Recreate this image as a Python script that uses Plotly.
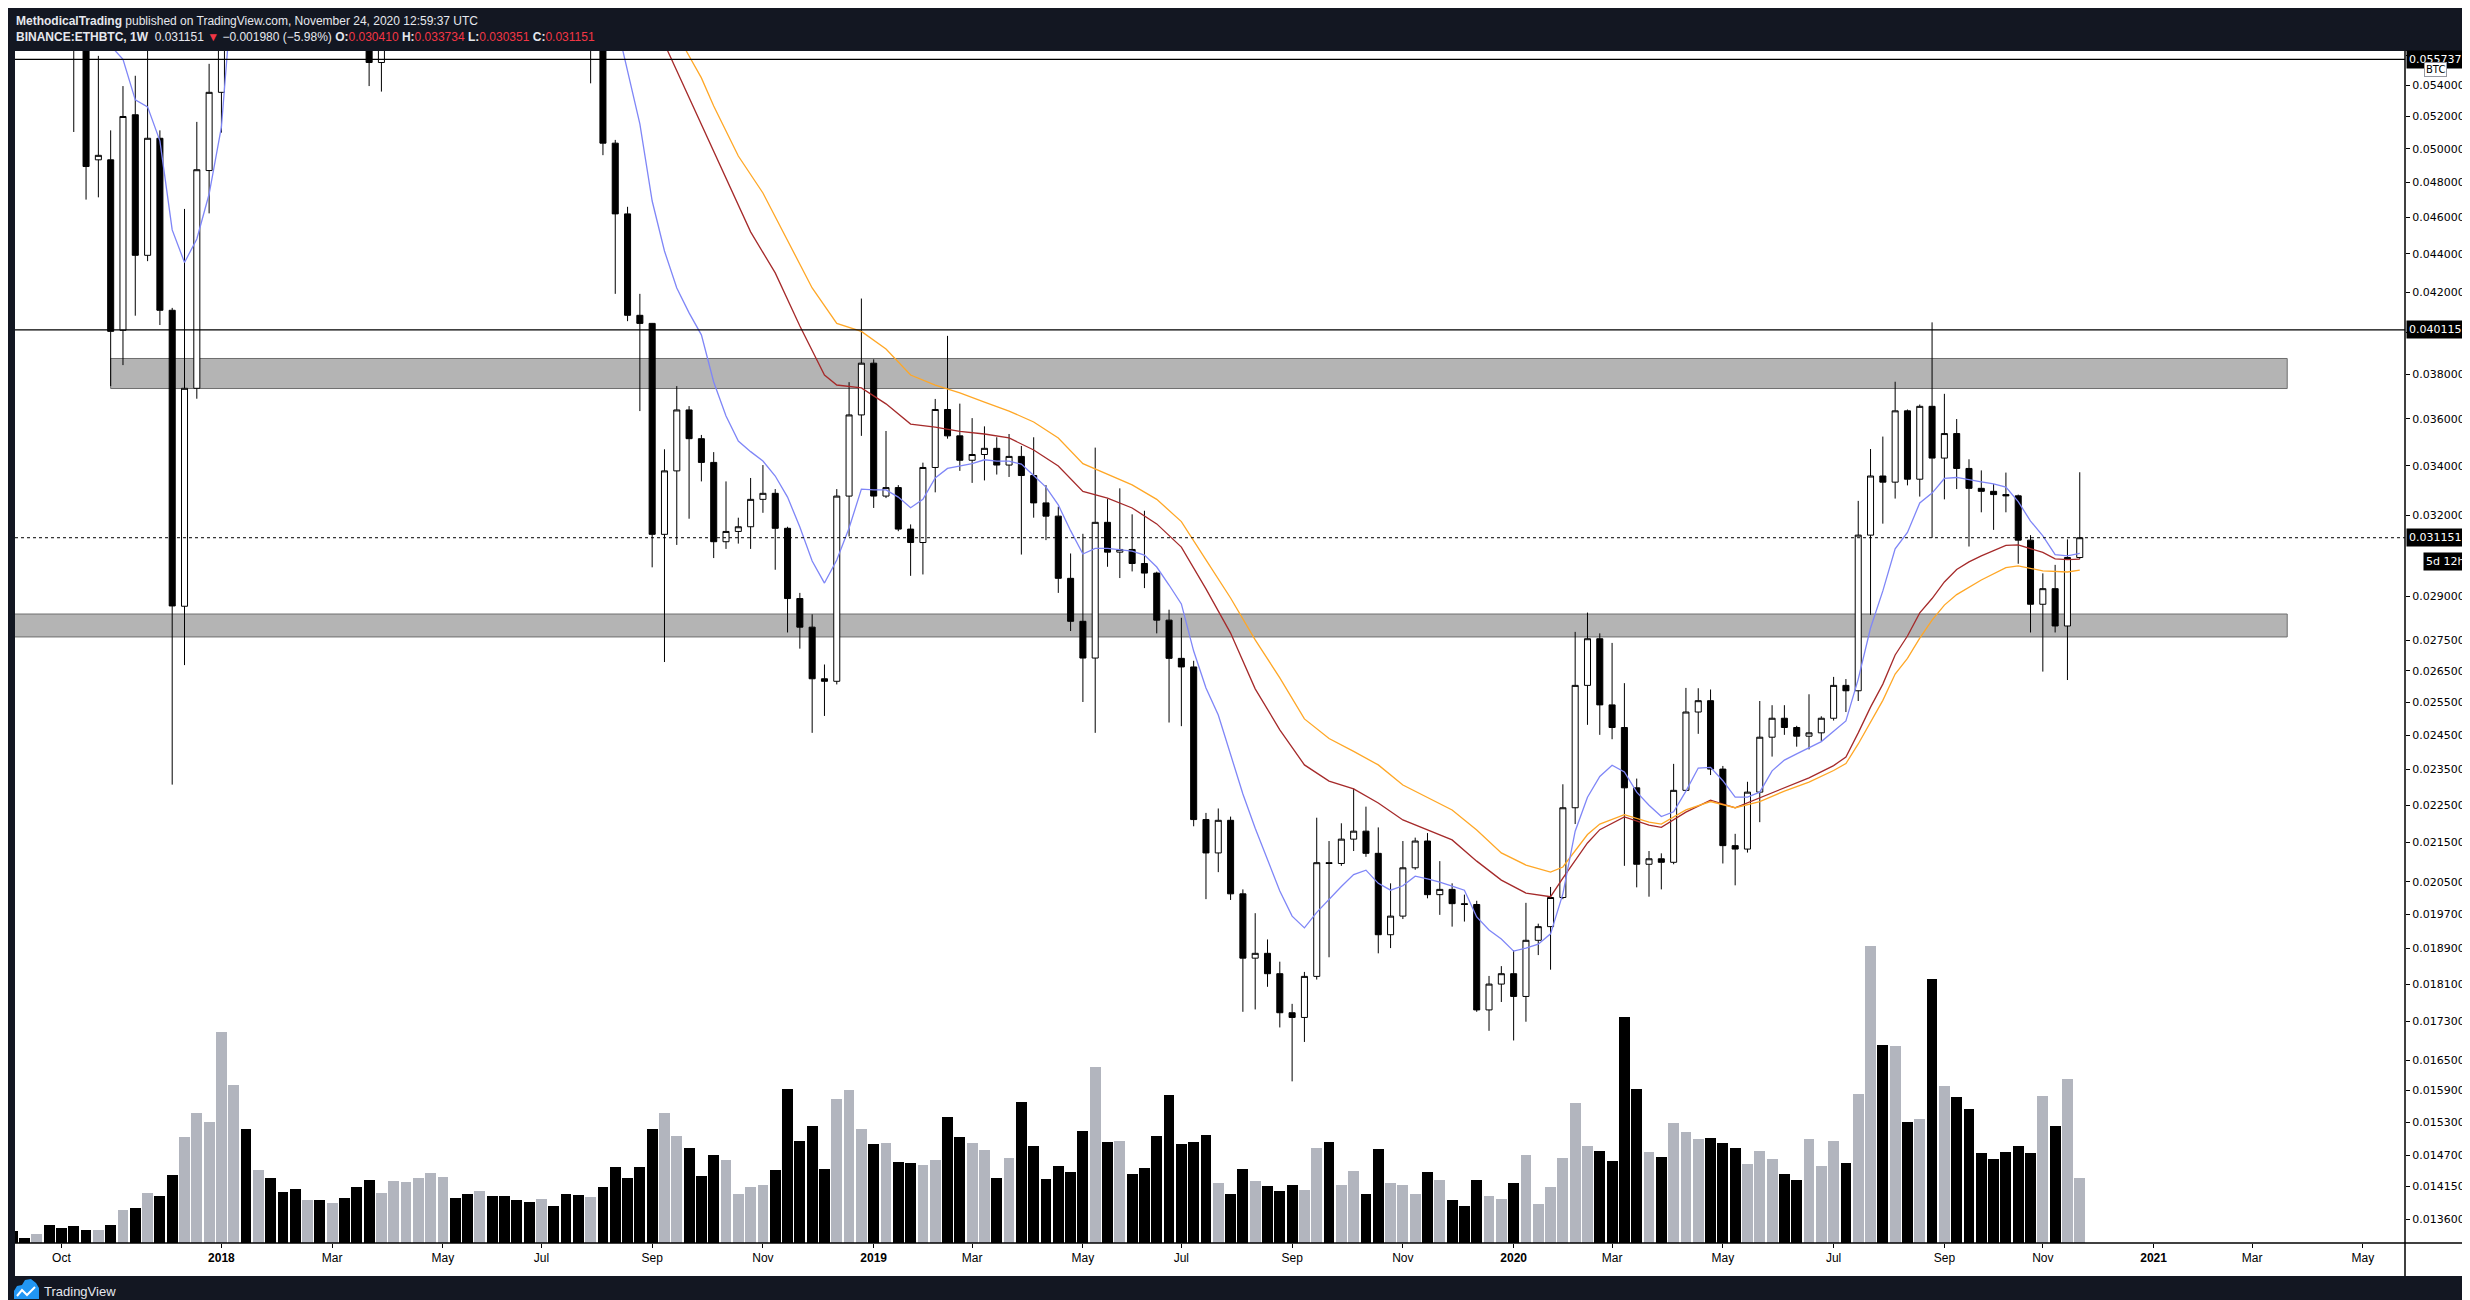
import math
import pandas as pd
import plotly.graph_objects as go

# BINANCE:ETHBTC weekly candles, first bar = week of 2017-09-04
opens = [
    0.0820, 0.0720, 0.0700, 0.0740, 0.0700, 0.0670, 0.0590, 0.04933, 0.04933, 0.04009,
    0.05211, 0.04392, 0.05064, 0.04108, 0.02866, 0.03736, 0.04869,
    0.05355, 0.0700, 0.0900, 0.0850, 0.0920, 0.0900, 0.0880, 0.0850, 0.0860, 0.0820,
    0.0830, 0.0720, 0.0620, 0.05553, 0.0590, 0.0640, 0.0690, 0.0740, 0.0820, 0.0840,
    0.0800, 0.0780, 0.0790, 0.0770, 0.0740, 0.0720, 0.0700, 0.0740, 0.0710, 0.0670,
    0.0585, 0.0600,
    0.05034, 0.04619, 0.04083, 0.04043, 0.03128, 0.03379, 0.03639, 0.03514, 0.03414, 0.03100,
    0.03139, 0.03157, 0.03264, 0.03288, 0.03151, 0.02893, 0.02794, 0.02624, 0.02616, 0.03277,
    0.03617,
    0.03852, 0.03277, 0.03311, 0.03148, 0.03097, 0.03393, 0.03641, 0.03526, 0.03423, 0.03447,
    0.03473, 0.03403, 0.03439, 0.03360, 0.03250, 0.03198, 0.02965, 0.02814, 0.02691, 0.03174,
    0.03061, 0.03071, 0.03019, 0.02984, 0.02818, 0.02690, 0.02662, 0.02211, 0.02123, 0.02209,
    0.02020, 0.01868, 0.01879, 0.01833, 0.01748, 0.01738, 0.01827, 0.02098, 0.02096, 0.02159,
    0.02180, 0.02122, 0.01922, 0.01966, 0.02085, 0.02154, 0.02018, 0.02031, 0.01996, 0.01994,
    0.01754, 0.01810,
    0.01833, 0.01783, 0.01909, 0.01941, 0.02011, 0.02243, 0.02603, 0.02755, 0.02542, 0.02473,
    0.02298, 0.02094, 0.02108, 0.02099, 0.02291, 0.02520, 0.02555, 0.02351, 0.02142, 0.02133,
    0.02286, 0.02444, 0.02501, 0.02473, 0.02447, 0.02457, 0.02501, 0.02603, 0.02586, 0.03125,
    0.03358, 0.03333, 0.03635, 0.03345, 0.03655, 0.03432, 0.03536, 0.03389, 0.03308, 0.03296,
    0.03283, 0.03278, 0.03106, 0.02873, 0.02928, 0.02798, 0.030410,
]
highs = [
    0.0830, 0.0745, 0.0760, 0.0750, 0.0710, 0.0685, 0.0600, 0.05598, 0.05113, 0.05396,
    0.05464, 0.0575, 0.05113, 0.04120, 0.04647, 0.05166, 0.05544,
    0.0760, 0.1000, 0.0950, 0.0950, 0.0960, 0.0930, 0.0900, 0.0900, 0.0880, 0.0850,
    0.0840, 0.0740, 0.0640, 0.0600, 0.0650, 0.0700, 0.0760, 0.0850, 0.0880, 0.0860,
    0.0820, 0.0820, 0.0810, 0.0780, 0.0760, 0.0740, 0.0760, 0.0750, 0.0720, 0.0680,
    0.0620, 0.0610,
    0.05054, 0.04659, 0.04191, 0.04045, 0.03469, 0.03746, 0.03656, 0.03530, 0.03457, 0.03336,
    0.03192, 0.03350, 0.03403, 0.03305, 0.03157, 0.02913, 0.02838, 0.02670, 0.03305, 0.03764,
    0.04167,
    0.03870, 0.03547, 0.03321, 0.03166, 0.03413, 0.03688, 0.03982, 0.03667, 0.03603, 0.03567,
    0.03520, 0.03534, 0.03483, 0.03520, 0.03321, 0.03235, 0.03056, 0.03130, 0.03476, 0.03265,
    0.03308, 0.03205, 0.03219, 0.02989, 0.02854, 0.02826, 0.02682, 0.02229, 0.02241, 0.02219,
    0.02031, 0.01973, 0.01911, 0.01860, 0.01767, 0.01837, 0.02216, 0.02154, 0.02201, 0.02296,
    0.02246, 0.02190, 0.02046, 0.02154, 0.02163, 0.02175, 0.02102, 0.02046, 0.02018, 0.02003,
    0.01828, 0.01850,
    0.01886, 0.01998, 0.01948, 0.02037, 0.02308, 0.02778, 0.02844, 0.02773, 0.02741, 0.02610,
    0.02324, 0.02128, 0.02122, 0.02366, 0.02595, 0.02594, 0.02590, 0.02360, 0.02173, 0.02315,
    0.02554, 0.02541, 0.02541, 0.02478, 0.02575, 0.02507, 0.02630, 0.02623, 0.03258, 0.03470,
    0.03523, 0.03766, 0.03641, 0.03663, 0.04048, 0.03711, 0.03599, 0.03427, 0.03381, 0.03325,
    0.03372, 0.03283, 0.03125, 0.02983, 0.03014, 0.03109, 0.033734,
]
lows = [
    0.0700, 0.0620, 0.0690, 0.0690, 0.0660, 0.05103, 0.04700, 0.04713, 0.03746, 0.03843,
    0.04081, 0.04361, 0.04035, 0.02307, 0.02668, 0.03689, 0.04622,
    0.05099, 0.0690, 0.0800, 0.0840, 0.0880, 0.0850, 0.0830, 0.0820, 0.0800, 0.0780,
    0.0700, 0.0600, 0.05396, 0.05360, 0.0580, 0.0630, 0.0680, 0.0730, 0.0800, 0.0780,
    0.0760, 0.0760, 0.0750, 0.0720, 0.0700, 0.0690, 0.0690, 0.0690, 0.0660, 0.0575,
    0.05414, 0.04961,
    0.04191, 0.04054, 0.03634, 0.03005, 0.02678, 0.03088, 0.03188, 0.03336, 0.03039, 0.03073,
    0.03093, 0.03073, 0.03211, 0.02996, 0.02776, 0.02722, 0.02457, 0.02508, 0.02606, 0.03120,
    0.03526,
    0.03230, 0.03269, 0.03140, 0.02974, 0.02979, 0.03292, 0.03514, 0.03379, 0.03330, 0.03340,
    0.03364, 0.03354, 0.03052, 0.03192, 0.03106, 0.02913, 0.02781, 0.02551, 0.02457, 0.03007,
    0.02966, 0.02990, 0.02930, 0.02773, 0.02488, 0.02477, 0.02193, 0.02007, 0.02074, 0.02005,
    0.01750, 0.01755, 0.01804, 0.01717, 0.01608, 0.01687, 0.01820, 0.01870, 0.02090, 0.02128,
    0.02113, 0.01879, 0.01891, 0.01959, 0.02080, 0.02009, 0.01969, 0.01941, 0.01953, 0.01750,
    0.01710, 0.01771,
    0.01690, 0.01729, 0.01875, 0.01842, 0.02007, 0.02199, 0.02481, 0.02451, 0.02438, 0.02090,
    0.02036, 0.02013, 0.02031, 0.02094, 0.02289, 0.02454, 0.02334, 0.02096, 0.02041, 0.02124,
    0.02204, 0.02387, 0.02451, 0.02416, 0.02408, 0.02432, 0.02494, 0.02520, 0.02554, 0.02836,
    0.03169, 0.03267, 0.03320, 0.03275, 0.03114, 0.03264, 0.03305, 0.03082, 0.03213, 0.03145,
    0.03213, 0.03018, 0.02776, 0.02647, 0.02776, 0.02620, 0.030351,
]
closes = [
    0.0720, 0.0700, 0.0740, 0.0700, 0.0670, 0.0590, 0.04893, 0.04960, 0.04004, 0.05200,
    0.04392, 0.05064, 0.04108, 0.02867, 0.03736, 0.04874, 0.05355,
    0.0700, 0.0900, 0.0850, 0.0920, 0.0900, 0.0880, 0.0850, 0.0860, 0.0820, 0.0830,
    0.0720, 0.0620, 0.05553, 0.0590, 0.0640, 0.0690, 0.0740, 0.0820, 0.0840, 0.0800,
    0.0780, 0.0790, 0.0770, 0.0740, 0.0720, 0.0700, 0.0740, 0.0710, 0.0670, 0.0585,
    0.0600, 0.05034,
    0.04619, 0.04083, 0.04043, 0.03128, 0.03379, 0.03639, 0.03514, 0.03414, 0.03100, 0.03139,
    0.03157, 0.03264, 0.03288, 0.03151, 0.02893, 0.02794, 0.02624, 0.02616, 0.03277, 0.03617,
    0.03852,
    0.03277, 0.03311, 0.03148, 0.03097, 0.03393, 0.03641, 0.03526, 0.03423, 0.03447, 0.03473,
    0.03403, 0.03439, 0.03360, 0.03250, 0.03198, 0.02965, 0.02814, 0.02691, 0.03174, 0.03061,
    0.03071, 0.03019, 0.02984, 0.02818, 0.02690, 0.02662, 0.02211, 0.02123, 0.02209, 0.02020,
    0.01868, 0.01879, 0.01833, 0.01748, 0.01738, 0.01827, 0.02098, 0.02096, 0.02159, 0.02180,
    0.02122, 0.01922, 0.01966, 0.02085, 0.02154, 0.02018, 0.02031, 0.01996, 0.01994, 0.01754,
    0.01810, 0.01833,
    0.01783, 0.01909, 0.01941, 0.02011, 0.02243, 0.02603, 0.02755, 0.02542, 0.02473, 0.02298,
    0.02094, 0.02108, 0.02099, 0.02291, 0.02520, 0.02555, 0.02351, 0.02142, 0.02133, 0.02286,
    0.02444, 0.02501, 0.02473, 0.02447, 0.02457, 0.02501, 0.02603, 0.02586, 0.03125, 0.03358,
    0.03333, 0.03635, 0.03345, 0.03655, 0.03432, 0.03536, 0.03389, 0.03308, 0.03296, 0.03283,
    0.03278, 0.03106, 0.02873, 0.02928, 0.02798, 0.03041, 0.031151,
]
# weekly volume (arbitrary units)
volumes = [
    123, 53, 93, 183, 153, 173, 133, 133, 183, 333, 353, 503, 473, 683, 1063, 1303, 1213,
    2113, 1583, 1143, 733, 653, 513, 543, 433, 433, 403, 453, 563, 633, 503, 623, 613,
    653, 703, 663, 453, 493, 523, 473, 473, 433, 413, 443, 373, 493, 483, 463, 563,
    763, 653, 763, 1143, 1303, 1073, 953, 673, 883, 833, 493, 563, 583, 733, 1543, 1023,
    1173, 743, 1443, 1533, 1143,
    993, 1003, 813, 803, 783, 833, 1263, 1063, 1003, 933, 653, 853, 1413, 973, 643, 773,
    713, 1123, 1763, 1013, 1023, 693, 753, 1073, 1483, 993, 1013, 1083, 603, 493, 743, 623,
    573, 523, 583, 533, 953, 1013, 583, 723, 493, 943, 603, 583, 493, 713, 633, 433, 373,
    633, 473, 443,
    603, 883, 393, 563, 853, 1403, 973, 923, 823, 2263, 1543, 913, 863, 1203, 1113, 1043,
    1053, 1003, 953, 793, 923, 843, 693, 633, 1043, 773, 1023, 803, 1493, 2973, 1983, 1973,
    1213, 1243, 2643, 1573, 1463, 1343, 903, 843, 913, 973, 903, 1473, 1173, 1643, 653,
]
weeks = pd.date_range("2017-09-04", periods=len(opens), freq="7D")

# fast average (blue): late-2017 stretch, then weekly from 2018-08-13
blue_early = [0.0600, 0.05667, 0.05575, 0.05306, 0.05261, 0.05048, 0.04530, 0.04354,
              0.04480, 0.04732, 0.05134, 0.0620]
blue_late = [
    0.05862, 0.05496, 0.05153, 0.04692, 0.04415, 0.04221, 0.04095, 0.03987, 0.03765, 0.03612,
    0.03504, 0.03459, 0.03420, 0.03358, 0.03273, 0.03156, 0.03028, 0.02948, 0.03032, 0.03152,
    0.03305, 0.03302, 0.03302, 0.03273, 0.03231, 0.03264, 0.03350, 0.03389, 0.03399, 0.03409,
    0.03425, 0.03419, 0.03419, 0.03407, 0.03360, 0.03313, 0.03242, 0.03142, 0.03054, 0.03075,
    0.03075, 0.03071, 0.03065, 0.03050, 0.03006, 0.02941, 0.02874, 0.02714, 0.02595, 0.02511,
    0.02392, 0.02281, 0.02188, 0.02105, 0.02027, 0.01966, 0.01938, 0.01975, 0.02007, 0.02038,
    0.02068, 0.02079, 0.02046, 0.02029, 0.02040, 0.02064, 0.02057, 0.02049, 0.02039, 0.02029,
    0.01964, 0.01933, 0.01912, 0.01884, 0.01891, 0.01900, 0.01924, 0.02020, 0.02180, 0.02272,
    0.02330, 0.02362, 0.02343, 0.02286, 0.02250, 0.02219, 0.02232, 0.02289, 0.02354, 0.02356,
    0.02318, 0.02272, 0.02272, 0.02286, 0.02346, 0.02377, 0.02395, 0.02412, 0.02431, 0.02462,
    0.02493, 0.02623, 0.02791, 0.02920, 0.03073, 0.03135, 0.03250, 0.03289, 0.03348, 0.03352,
    0.03342, 0.03334, 0.03326, 0.03313, 0.03255, 0.03179, 0.03122, 0.03052, 0.03047, 0.03056,
]
blue_dates = (list(pd.date_range("2017-10-23", periods=len(blue_early), freq="7D"))
              + list(pd.date_range("2018-08-13", periods=len(blue_late), freq="7D")))
blue_vals = blue_early + blue_late

red_dates = [
    "2018-08-06", "2018-09-03", "2018-09-10", "2018-09-17", "2018-09-24", "2018-10-01",
    "2018-10-15", "2018-10-29", "2018-11-12", "2018-11-26", "2018-12-10", "2018-12-17",
    "2018-12-31", "2019-01-14", "2019-01-28", "2019-02-11", "2019-02-25", "2019-03-11",
    "2019-03-25", "2019-04-08", "2019-04-22", "2019-05-06", "2019-05-20", "2019-06-03",
    "2019-06-17", "2019-07-01", "2019-07-15", "2019-07-29", "2019-08-12", "2019-08-26",
    "2019-09-09", "2019-09-23", "2019-10-07", "2019-10-21", "2019-11-04", "2019-11-18",
    "2019-12-02", "2019-12-16", "2019-12-30", "2020-01-13", "2020-01-27", "2020-02-03",
    "2020-02-10", "2020-02-17", "2020-02-24", "2020-03-09", "2020-03-23", "2020-03-30",
    "2020-04-13", "2020-04-27", "2020-05-11", "2020-05-25", "2020-06-08", "2020-06-22",
    "2020-07-06", "2020-07-13", "2020-07-20", "2020-07-27", "2020-08-03", "2020-08-10",
    "2020-08-17", "2020-08-24", "2020-08-31", "2020-09-07", "2020-09-14", "2020-09-21",
    "2020-09-28", "2020-10-12", "2020-10-19", "2020-10-26", "2020-11-02", "2020-11-09",
    "2020-11-16", "2020-11-23",
]
red_vals = [
    0.0700, 0.05877, 0.05680, 0.05496, 0.05319, 0.05153,
    0.04826, 0.04519, 0.04299, 0.04030, 0.03797, 0.03751,
    0.03738, 0.03666, 0.03577, 0.03564, 0.03545, 0.03534,
    0.03517, 0.03466, 0.03399, 0.03296, 0.03269, 0.03230,
    0.03168, 0.03080, 0.02927, 0.02774, 0.02592, 0.02466,
    0.02363, 0.02317, 0.02295, 0.02256, 0.02210, 0.02183,
    0.02157, 0.02102, 0.02054, 0.02022, 0.02013, 0.02059,
    0.02105, 0.02149, 0.02184, 0.02218, 0.02196, 0.02190,
    0.02231, 0.02264, 0.02243, 0.02270, 0.02298, 0.02326,
    0.02361, 0.02386, 0.02457, 0.02535, 0.02607, 0.02701,
    0.02764, 0.02843, 0.02893, 0.02952, 0.02997, 0.03025,
    0.03047, 0.03086, 0.03088, 0.03075, 0.03060, 0.03036,
    0.03033, 0.03035,
]

orange_dates = [
    "2018-09-10", "2018-09-17", "2018-09-24", "2018-10-01", "2018-10-08", "2018-10-22",
    "2018-11-05", "2018-11-19", "2018-12-03", "2018-12-17", "2018-12-31", "2019-01-14",
    "2019-01-28", "2019-02-11", "2019-02-25", "2019-03-11", "2019-03-25", "2019-04-08",
    "2019-04-22", "2019-05-06", "2019-05-20", "2019-06-03", "2019-06-17", "2019-07-01",
    "2019-07-15", "2019-07-29", "2019-08-12", "2019-08-26", "2019-09-09", "2019-09-23",
    "2019-10-07", "2019-10-21", "2019-11-04", "2019-11-18", "2019-12-02", "2019-12-16",
    "2019-12-30", "2020-01-13", "2020-01-27", "2020-02-03", "2020-02-10", "2020-02-17",
    "2020-02-24", "2020-03-09", "2020-03-23", "2020-03-30", "2020-04-13", "2020-04-27",
    "2020-05-11", "2020-05-25", "2020-06-08", "2020-06-22", "2020-07-06", "2020-07-13",
    "2020-07-20", "2020-07-27", "2020-08-03", "2020-08-10", "2020-08-17", "2020-08-24",
    "2020-08-31", "2020-09-07", "2020-09-14", "2020-09-28", "2020-10-12", "2020-10-19",
    "2020-11-02", "2020-11-16", "2020-11-23",
]
orange_vals = [
    0.0600, 0.05749, 0.05597, 0.05450, 0.05267, 0.04956,
    0.04738, 0.04475, 0.04221, 0.04043, 0.04004, 0.03919,
    0.03797, 0.03751, 0.03715, 0.03674, 0.03634, 0.03586,
    0.03517, 0.03409, 0.03364, 0.03322, 0.03264, 0.03177,
    0.03032, 0.02895, 0.02751, 0.02627, 0.02499, 0.02440,
    0.02402, 0.02363, 0.02306, 0.02272, 0.02237, 0.02183,
    0.02123, 0.02092, 0.02074, 0.02087, 0.02128, 0.02171,
    0.02199, 0.02224, 0.02204, 0.02199, 0.02237, 0.02260,
    0.02243, 0.02260, 0.02289, 0.02314, 0.02347, 0.02367,
    0.02424, 0.02491, 0.02556, 0.02639, 0.02690, 0.02757,
    0.02818, 0.02870, 0.02907, 0.02959, 0.03004, 0.03010,
    0.02992, 0.02988, 0.02995,
]

# drawn levels and zones
level_lines = [0.055737, 0.040115]
last_price = 0.031151
upper_zone = (0.03735, 0.03874)
lower_zone = (0.02761, 0.02839)

price_ticks = [0.056, 0.054, 0.052, 0.050, 0.048, 0.046, 0.044, 0.042, 0.040, 0.038,
               0.036, 0.034, 0.032, 0.029, 0.0275, 0.0265, 0.0255, 0.0245, 0.0235,
               0.0225, 0.0215, 0.0205, 0.0197, 0.0189, 0.0181, 0.0173, 0.0165, 0.0159,
               0.0153, 0.0147, 0.01415, 0.0136]
time_ticks = ["2017-10-02", "2018-01-01", "2018-03-05", "2018-05-07", "2018-07-02",
              "2018-09-03", "2018-11-05", "2019-01-07", "2019-03-04", "2019-05-06",
              "2019-07-01", "2019-09-02", "2019-11-04", "2020-01-06", "2020-03-02",
              "2020-05-04", "2020-07-06", "2020-09-07", "2020-11-02", "2021-01-04",
              "2021-03-01", "2021-05-03"]
time_labels = ["Oct", "<b>2018</b>", "Mar", "May", "Jul", "Sep", "Nov", "<b>2019</b>",
               "Mar", "May", "Jul", "Sep", "Nov", "<b>2020</b>", "Mar", "May", "Jul",
               "Sep", "Nov", "<b>2021</b>", "Mar", "May"]

W, H = 2470, 1300
PL, PR, PT, PB = 7, 2397, 43, 1235
VOL_SCALE = 10  # volume units per pixel of bar height
BG = "#131722"
RED_TXT = "#f23645"


def px_x(p):
    return (p - PL) / (PR - PL)


def px_y(p):
    return (PB - p) / (PB - PT)


vol_colors = ["#b2b5be" if c >= o else "#000000" for o, c in zip(opens, closes)]

fig = go.Figure()
fig.add_trace(go.Bar(
    x=weeks, y=volumes, yaxis="y",
    width=7 * 86400000 * 0.88,
    marker=dict(color=vol_colors, line=dict(width=0)),
    hoverinfo="skip",
))
fig.add_trace(go.Candlestick(
    x=weeks, open=opens, high=highs, low=lows, close=closes, yaxis="y2",
    increasing=dict(line=dict(color="black", width=1), fillcolor="white"),
    decreasing=dict(line=dict(color="black", width=1), fillcolor="black"),
    whiskerwidth=0,
))
for xs, ys, col in [(red_dates, red_vals, "#a52a2a"),
                    (orange_dates, orange_vals, "#ffa726"),
                    (blue_dates, blue_vals, "#7f86f7")]:
    fig.add_trace(go.Scatter(x=xs, y=ys, mode="lines", yaxis="y2",
                             line=dict(color=col, width=1.3), hoverinfo="skip"))

shapes = [
    # white chart panel incl. both axes
    dict(type="rect", xref="paper", yref="paper", x0=px_x(PL), x1=px_x(2462),
         y0=px_y(1268), y1=1, fillcolor="white", line=dict(width=0), layer="below"),
    dict(type="rect", xref="x", yref="y2", x0="2017-10-30", x1="2021-03-21",
         y0=upper_zone[0], y1=upper_zone[1], fillcolor="#b4b4b4",
         line=dict(color="#6e6e6e", width=1), layer="below"),
    dict(type="rect", xref="x", yref="y2", x0="2017-08-01", x1="2021-03-21",
         y0=lower_zone[0], y1=lower_zone[1], fillcolor="#b4b4b4",
         line=dict(color="#6e6e6e", width=1), layer="below"),
    dict(type="line", xref="paper", yref="y2", x0=0, x1=1, y0=last_price, y1=last_price,
         line=dict(color="black", width=1, dash="dot")),
    # axis separators
    dict(type="line", xref="paper", yref="paper", x0=1, x1=1, y0=px_y(1268), y1=1,
         line=dict(color="black", width=1.5)),
    dict(type="line", xref="paper", yref="paper", x0=0, x1=px_x(2462), y0=0, y1=0,
         line=dict(color="black", width=1.5)),
]
for lv in level_lines:
    shapes.append(dict(type="line", xref="paper", yref="y2", x0=0, x1=1, y0=lv, y1=lv,
                       line=dict(color="black", width=1.2)))

# TradingView logo (footer)
logo_pts = [(6, 1291), (6, 1283), (9, 1278), (14, 1277), (17, 1272), (23, 1271),
            (28, 1275), (31, 1280), (31, 1291)]
logo_path = "M " + " L ".join(f"{px_x(a):.5f},{px_y(b):.5f}" for a, b in logo_pts) + " Z"
zig_pts = [(9, 1288), (14, 1282), (19, 1287), (27, 1279)]
zig_path = "M " + " L ".join(f"{px_x(a):.5f},{px_y(b):.5f}" for a, b in zig_pts)
shapes.append(dict(type="path", xref="paper", yref="paper", path=logo_path,
                   fillcolor="#2196f3", line=dict(width=0)))
shapes.append(dict(type="path", xref="paper", yref="paper", path=zig_path,
                   line=dict(color="white", width=2)))

hdr_font = dict(family="Liberation Sans, Arial, sans-serif", size=12, color="#e6e8ee")
line2 = (f"<b>BINANCE:ETHBTC, 1W</b>  0.031151 <span style='color:{RED_TXT}'>▼</span> "
         f"−0.001980 (−5.98%) <b>O:</b><span style='color:{RED_TXT}'>0.030410</span> "
         f"<b>H:</b><span style='color:{RED_TXT}'>0.033734</span> "
         f"<b>L:</b><span style='color:{RED_TXT}'>0.030351</span> "
         f"<b>C:</b><span style='color:{RED_TXT}'>0.031151</span>")

lab_font = dict(family="DejaVu Sans, sans-serif", size=11, color="white")
annotations = [
    dict(xref="paper", yref="paper", x=px_x(6), y=px_y(13), xanchor="left", yanchor="middle",
         showarrow=False, font=hdr_font,
         text="<b>MethodicalTrading</b> published on TradingView.com, November 24, 2020 12:59:37 UTC"),
    dict(xref="paper", yref="paper", x=px_x(6), y=px_y(29), xanchor="left", yanchor="middle",
         showarrow=False, font=hdr_font, text=line2),
    dict(xref="paper", yref="paper", x=px_x(34), y=px_y(1283), xanchor="left", yanchor="middle",
         showarrow=False, text="TradingView",
         font=dict(family="Liberation Sans, Arial, sans-serif", size=13, color="#e6e8ee")),
]
for txt, val in [("0.055737", level_lines[0]), ("0.040115", level_lines[1]),
                 ("0.031151", last_price)]:
    annotations.append(dict(xref="paper", yref="y2", x=px_x(2398), y=math.log10(val),
                            xanchor="left", yanchor="middle", showarrow=False, text=txt,
                            font=lab_font, bgcolor="black", borderpad=2, width=58,
                            align="left"))
annotations.append(dict(xref="paper", yref="paper", x=px_x(2415), y=px_y(553),
                        xanchor="left", yanchor="middle", showarrow=False, text="5d 12h",
                        font=lab_font, bgcolor="black", borderpad=2, width=42, align="left"))
annotations.append(dict(xref="paper", yref="paper", x=px_x(2416), y=px_y(61),
                        xanchor="left", yanchor="middle", showarrow=False, text="BTC",
                        font=dict(family="DejaVu Sans, sans-serif", size=10, color="black"),
                        bgcolor="white", bordercolor="#9598a1", borderwidth=1, borderpad=1))

fig.update_layout(
    width=W, height=H,
    paper_bgcolor=BG, plot_bgcolor="white",
    margin=dict(l=PL, r=W - PR, t=PT, b=H - PB, pad=0),
    showlegend=False,
    xaxis=dict(
        type="date", range=["2017-09-05 14:00", "2021-05-27"],
        rangeslider=dict(visible=False), showgrid=False, zeroline=False,
        tickvals=time_ticks, ticktext=time_labels,
        ticks="outside", ticklen=4, tickcolor="black",
        tickfont=dict(family="Liberation Sans, Arial, sans-serif", size=12, color="black"),
        showline=False, fixedrange=True,
    ),
    yaxis=dict(range=[0, (PB - PT) * VOL_SCALE], visible=False, showgrid=False,
               fixedrange=True),
    yaxis2=dict(
        type="log", overlaying="y", side="right", anchor="x",
        range=[-1.8791, -1.2494], showgrid=False, zeroline=False, showline=False,
        tickvals=price_ticks, ticktext=[f"{v:.6f}" for v in price_ticks],
        ticks="outside", ticklen=4, tickcolor="black",
        tickfont=dict(family="DejaVu Sans, sans-serif", size=11, color="black"),
        fixedrange=True,
    ),
    shapes=shapes,
    annotations=annotations,
    bargap=0,
)

fig.write_html("out.html")
